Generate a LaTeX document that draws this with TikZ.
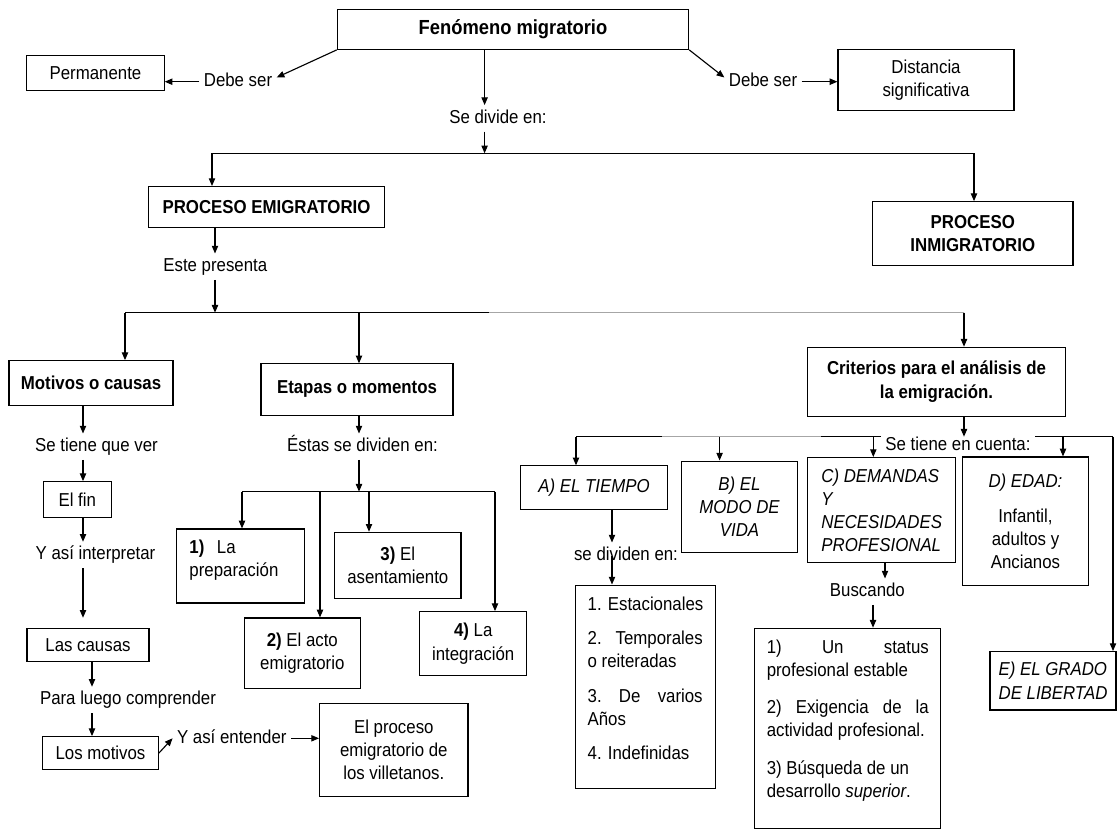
\documentclass[tikz,border=0pt]{standalone}
\usepackage{fontspec}
\setmainfont[FakeStretch=0.9]{Liberation Sans}
\usetikzlibrary{arrows.meta}
\newcommand{\txt}{\fontsize{13.3}{16.5}\selectfont}
\begin{document}
\begin{tikzpicture}[x=0.025cm,y=-0.025cm,
    box/.style={draw,line width=0.8pt,inner sep=2pt,align=center,font=\txt},
    lbl/.style={inner sep=3pt,text height=9.6pt,text depth=2.8pt,font=\txt},
    arr/.style={-{Triangle[length=5.5pt,width=4.5pt]},line width=0.8pt},
    ln/.style={line width=0.8pt},
    faint/.style={line width=0.8pt,black!35}]
\fill[white] (0,0) rectangle (1120,829);
\begin{scope}[every node/.style={box}]
    \node[font=\fontsize{14.5}{17}\selectfont\bfseries,minimum width=8.78cm,minimum height=1cm] (fen) at (513,29.3) {Fenómeno migratorio};
    \node[minimum width=3.43cm,minimum height=0.87cm] (perm) at (95.5,73.3) {Permanente};
    \node[minimum width=4.4cm,minimum height=1.54cm] (dist) at (926,79.9) {Distancia\\significativa};
    \node[font=\txt\bfseries,minimum width=5.88cm,minimum height=1.02cm] (emig) at (266.5,207) {PROCESO EMIGRATORIO};
    \node[font=\txt\bfseries,minimum width=5.01cm,minimum height=1.6cm] (inmig) at (972.8,233.7) {PROCESO\\INMIGRATORIO};
    \node[font=\txt\bfseries,minimum width=4.1cm,minimum height=1.11cm] (motivos) at (91,382.9) {Motivos o causas};
    \node[font=\txt\bfseries,minimum width=4.8cm,minimum height=1.28cm] (etapas) at (357,389.5) {Etapas o momentos};
    \node[font=\txt\bfseries,minimum width=6.43cm,minimum height=1.72cm] (criterios) at (936.5,381.7) {Criterios para el análisis de\\la emigración.};
    \node[minimum width=1.69cm,minimum height=0.89cm] (fin) at (77.3,499.5) {El fin};
    \node[minimum width=3.05cm,minimum height=0.84cm] (causas) at (88,645) {Las causas};
    \node[minimum width=2.88cm,minimum height=0.83cm] (motlos) at (100.5,753.3) {Los motivos};
    \node[minimum width=3.71cm,minimum height=2.34cm] (villet) at (393.8,750) {El proceso\\emigratorio de\\los villetanos.};
    \node[align=left,text width=2.55cm,minimum width=3.18cm,minimum height=1.85cm] (prep) at (240.5,566) {\textbf{1)}\ \ La\\preparación\rule[-11pt]{0pt}{1pt}};
    \node[minimum width=2.89cm,minimum height=1.76cm] (acto) at (302.3,653.2) {\textbf{2)} El acto\\emigratorio};
    \node[minimum width=3.16cm,minimum height=1.65cm] (asent) at (397.8,565.3) {\textbf{3)} El\\asentamiento};
    \node[minimum width=2.68cm,minimum height=1.6cm] (integ) at (473.2,643.7) {\textbf{4)} La\\integración};
    \node[font=\txt\itshape,minimum width=3.69cm,minimum height=1.08cm] (tiempo) at (594.1,487.5) {A) EL TIEMPO};
    \node[font=\txt\itshape,minimum width=2.9cm,minimum height=2.28cm] (modo) at (739.5,506.7) {B) EL\\MODO DE\\VIDA};
    \node[font=\txt\itshape,align=left,minimum width=3.69cm,minimum height=2.63cm] (demandas) at (881.7,510.2) {C) DEMANDAS\\Y\\NECESIDADES\\PROFESIONAL};
    \node[minimum width=3.13cm,minimum height=3.22cm] (edad) at (1025.5,521.4) {\textit{D) EDAD:}\\[8.5pt]Infantil,\\adultos y\\Ancianos};
    \node[font=\txt\itshape,align=left,minimum width=3.15cm,minimum height=1.46cm] (grado) at (1053,680.8) {E) EL GRADO\\DE LIBERTAD};
    \node[align=left,minimum width=3.48cm,minimum height=5.08cm] (tipos) at (645.5,686.7) {1. Estacionales\\[8pt]
        \makebox[2.875cm][l]{2.\hfill Temporales}\\o reiteradas\\[8pt]
        \makebox[2.875cm][l]{3.\hfill De\hfill varios}\\Años\\[8pt]
        4. Indefinidas\rule[-12pt]{0pt}{1pt}};
    \node[align=left,minimum width=4.65cm,minimum height=5cm] (busca) at (847.8,728.3) {\makebox[4.05cm][l]{1)\hfill Un\hfill status}\\profesional estable\\[10pt]
        \makebox[4.05cm][l]{2)\hfill Exigencia\hfill de\hfill la}\\actividad profesional.\\[10pt]
        3) Búsqueda de un\\desarrollo \textit{superior}.\rule[-14pt]{0pt}{1pt}};
\end{scope}
\begin{scope}[every node/.style={lbl}]
    \node (debe1) at (238,81.7) {Debe ser};
    \node (debe2) at (763,81.7) {Debe ser};
    \node (divide) at (498,118.3) {Se divide en:};
    \node (presenta) at (215.3,266.7) {Este presenta};
    \node (tienever) at (96.5,446.7) {Se tiene que ver};
    \node (interpretar) at (95.5,555) {Y así interpretar};
    \node (comprender) at (128,700) {Para luego comprender};
    \node (entender) at (231.8,738.3) {Y así entender};
    \node (dividen) at (362.5,446.7) {Éstas se dividen en:};
    \node (cuenta) at (958,446) {Se tiene en cuenta:};
    \node (sedividen) at (626,555.7) {se dividen en:};
    \node (buscando) at (867.4,591.7) {Buscando};
\end{scope}
\draw[arr] (fen.south west) -- ([yshift=3pt]debe1.east);
\draw[arr] (debe1.west) -- (debe1.west -| perm.east);
\draw[arr] (fen.south east) -- ([yshift=3pt]debe2.west);
\draw[arr] (debe2.east) -- (debe2.east -| dist.west);
\coordinate (trunk) at (484.6,153.3);
\coordinate (emigtop) at (212,153.3);
\coordinate (inmigtop) at (974,153.3);
\draw[arr] (trunk |- fen.south) -- (trunk |- divide.north);
\draw[arr] (trunk |- divide.south) -- (trunk);
\draw[ln] (emigtop) -- (inmigtop);
\draw[arr] (emigtop) -- (emigtop |- emig.north);
\draw[arr] (inmigtop) -- (inmigtop |- inmig.north);
\coordinate (ramal) at (215,312.7);
\coordinate (motivostop) at (125,312.7);
\coordinate (etapastop) at (359,312.7);
\coordinate (grisini) at (489,312.7);
\coordinate (criteriostop) at (964,312.7);
\draw[arr] (ramal |- emig.south) -- (ramal |- presenta.north);
\draw[arr] (ramal |- presenta.south) -- (ramal);
\draw[ln] (motivostop) -- (grisini);
\draw[faint] (grisini) -- (criteriostop);
\draw[arr] (motivostop) -- (motivostop |- motivos.north);
\draw[arr] (etapastop) -- (etapastop |- etapas.north);
\draw[arr] (criteriostop) -- (criteriostop |- criterios.north);
\coordinate (colmot) at (83,0);
\draw[arr] (colmot |- motivos.south) -- (colmot |- tienever.north);
\draw[arr] (colmot |- tienever.south) -- (colmot |- fin.north);
\draw[arr] (colmot |- fin.south) -- (colmot |- interpretar.north);
\draw[arr,shorten >=7pt] (colmot |- interpretar.south) -- (colmot |- causas.north);
\coordinate (colcau) at (92,0);
\draw[arr] (colcau |- causas.south) -- (colcau |- comprender.north);
\draw[arr] (colcau |- comprender.south) -- (colcau |- motlos.north);
\draw[arr] (motlos.east) -- (entender.west);
\draw[arr] (entender.east) -- (entender.east -| villet.west);
\coordinate (coleta) at (359,491.7);
\coordinate (et1) at (242,491.7);
\coordinate (et2) at (320,491.7);
\coordinate (et3) at (369,491.7);
\coordinate (et4) at (495,491.7);
\draw[arr] (coleta |- etapas.south) -- (coleta |- dividen.north);
\draw[arr] (coleta |- dividen.south) -- (coleta);
\draw[ln] (et1) -- (et4);
\draw[arr] (et1) -- (et1 |- prep.north);
\draw[arr] (et2) -- (et2 |- acto.north);
\draw[arr] (et3) -- (et3 |- asent.north);
\draw[arr] (et4) -- (et4 |- integ.north);
\coordinate (colcri) at (964,436.7);
\coordinate (crA) at (576,436.7);
\coordinate (crB) at (719.6,436.7);
\coordinate (crC) at (873.3,436.7);
\coordinate (crD) at (1063,436.7);
\coordinate (crE) at (1113,436.7);
\coordinate (gris1) at (662,436.7);
\coordinate (gris2) at (821,436.7);
\draw[arr] (colcri |- criterios.south) -- (colcri);
\draw[ln] (crA) -- (gris1);
\draw[faint] (gris1) -- (gris2);
\draw[ln] (gris2) -- (cuenta.west |- crA);
\draw[ln] (cuenta.east |- crA) -- (crE);
\draw[arr] (crA) -- (crA |- tiempo.north);
\draw[arr] (crB) -- (crB |- modo.north);
\draw[arr] (crC) -- (crC |- demandas.north);
\draw[arr] (crD) -- (crD |- edad.north);
\draw[arr] (crE) -- (crE |- grado.north);
\coordinate (coltie) at (612,0);
\draw[arr] (coltie |- tiempo.south) -- (coltie |- sedividen.north);
\draw[arr] (coltie |- sedividen.center) -- (coltie |- tipos.north);
\coordinate (coldem) at (885,0);
\coordinate (colbus) at (873,0);
\draw[arr] (coldem |- demandas.south) -- (coldem |- buscando.north);
\draw[arr] (colbus |- buscando.south) -- (colbus |- busca.north);
\end{tikzpicture}
\end{document}
